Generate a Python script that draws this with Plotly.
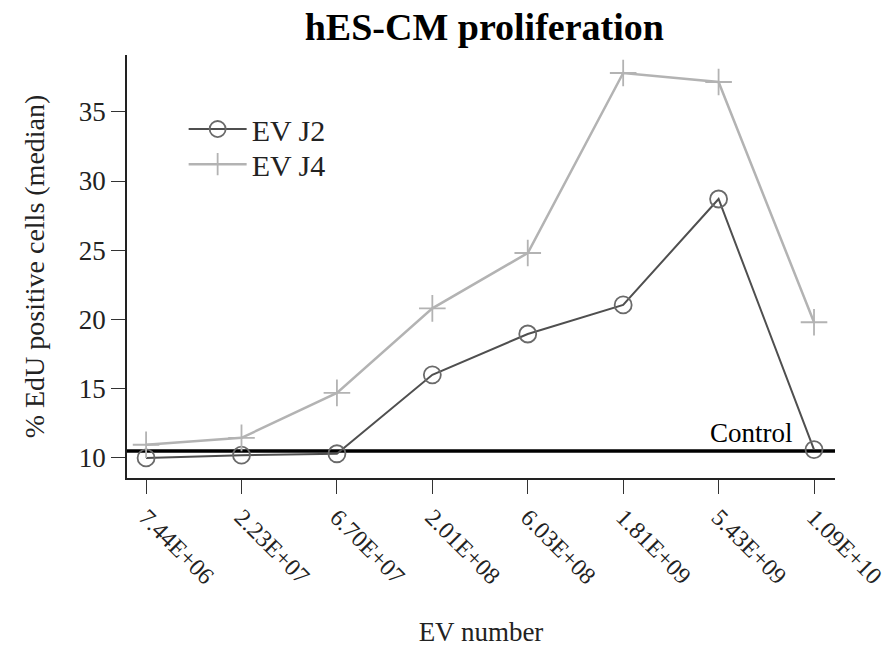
import plotly.graph_objects as go

# EV dose (number of particles) for each condition
ev_numbers = ["7.44E+06", "2.23E+07", "6.70E+07", "2.01E+08",
              "6.03E+08", "1.81E+09", "5.43E+09", "1.09E+10"]
# Median % EdU-positive cells
ev_j2 = [10.0, 10.2, 10.3, 16.0, 18.95, 21.05, 28.7, 10.6]
ev_j4 = [10.95, 11.45, 14.7, 20.8, 24.8, 37.8, 37.15, 19.8]
control_level = 10.5

serif = "Liberation Serif, Times New Roman, serif"
ink = "#222"
idx = list(range(len(ev_numbers)))

fig = go.Figure()

# Control reference line across the whole plot
fig.add_shape(type="line", xref="paper", yref="y", x0=0, x1=1,
              y0=control_level, y1=control_level,
              line=dict(color="black", width=3.5), layer="below")

fig.add_trace(go.Scatter(
    x=idx, y=ev_j2, name="EV J2", mode="lines+markers", legend="legend",
    line=dict(color="#4f4f4f", width=2),
    marker=dict(symbol="circle-open", size=17, color="#6a6a6a",
                line=dict(width=1.8, color="#6a6a6a")),
))
fig.add_trace(go.Scatter(
    x=idx, y=ev_j4, name="EV J4", mode="lines+markers", legend="legend2",
    line=dict(color="#b3b3b3", width=2.5),
    marker=dict(symbol="cross-thin-open", size=19, color="#b3b3b3",
                line=dict(width=1.8, color="#b3b3b3")),
))

fig.add_annotation(x=6.35, y=control_level, xref="x", yref="y",
                   text="Control", showarrow=False, yanchor="bottom",
                   yshift=1, font=dict(family=serif, size=27, color="black"))

legend_style = dict(xanchor="left", yanchor="middle", bgcolor="rgba(0,0,0,0)",
                    itemwidth=58, font=dict(family=serif, size=30, color=ink))

fig.update_layout(
    width=887, height=655,
    margin=dict(l=127, r=52, t=55, b=177),
    paper_bgcolor="white", plot_bgcolor="white",
    font=dict(family=serif, size=26, color=ink),
    title=dict(text="<b>hES-CM proliferation</b>", x=0.546, xanchor="center",
               y=0.96, yanchor="middle",
               font=dict(family=serif, size=38, color="black")),
    legend=dict(x=0.08, y=0.825, **legend_style),
    legend2=dict(x=0.08, y=0.742, **legend_style),
    showlegend=True,
)

fig.update_xaxes(
    range=[-0.2, 7.22], tickmode="array", tickvals=idx, ticktext=ev_numbers,
    tickangle=45, ticks="outside", ticklen=14, tickwidth=1.2, tickcolor="#333",
    ticklabeloverflow="allow", automargin=False,
    showline=True, linecolor=ink, linewidth=1.5, showgrid=False, zeroline=False,
    tickfont=dict(family=serif, size=24, color=ink),
    title=dict(text="EV number", standoff=34, font=dict(family=serif, size=27, color=ink)),
)
fig.update_yaxes(
    range=[8.55, 39.1], tickvals=[10, 15, 20, 25, 30, 35], automargin=False,
    ticks="outside", ticklen=14, tickwidth=1.2, tickcolor="#333",
    showline=True, linecolor=ink, linewidth=1.5, showgrid=False, zeroline=False,
    tickfont=dict(family=serif, size=27, color=ink),
    title=dict(text="% EdU positive cells (median)", standoff=26,
               font=dict(family=serif, size=28, color=ink)),
)

fig.write_html("out.html")
